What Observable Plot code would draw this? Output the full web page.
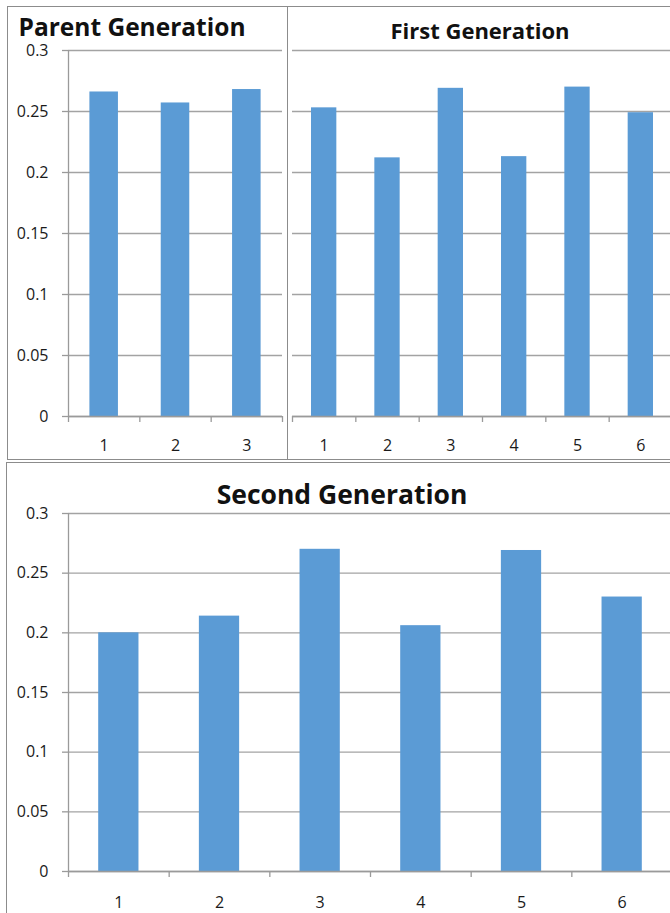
<!DOCTYPE html>
<html>
<head>
<meta charset="utf-8">
<script src="https://cdn.jsdelivr.net/npm/d3@7"></script>
<script src="https://cdn.jsdelivr.net/npm/@observablehq/plot@0.6"></script>
<style>
  html, body { margin: 0; padding: 0; overflow: hidden; background: #fff; }
  #page { position: relative; width: 670px; height: 913px; overflow: hidden; font-family: "Open Sans", sans-serif; }
  .panel { position: absolute; border: 1px solid #8c8c8c; box-sizing: border-box; }
  .chart { position: absolute; left: 0; width: 700px; }
  .chart svg { max-width: none !important; }
  .title { position: absolute; width: 400px; text-align: center; font-weight: bold; line-height: 0.8; color: #111; white-space: nowrap; }
</style>
</head>
<body>
<div id="page">
  <div class="panel" style="left:7px; top:6px; width:281px; height:454px;"></div>
  <div class="panel" style="left:287px; top:6px; width:420px; height:454px;"></div>
  <div class="panel" style="left:6px; top:462px; width:700px; height:500px;"></div>
  <div id="c1" class="chart" style="top:0px;"></div>
  <div id="c2" class="chart" style="top:0px;"></div>
  <div id="c3" class="chart" style="top:462px;"></div>
  <div class="title" style="left:-68px; top:16.7px; font-size:24.5px;">Parent Generation</div>
  <div class="title" style="left:280px; top:21.7px; font-size:22px;">First Generation</div>
  <div class="title" style="left:142px; top:484px; font-size:26.5px;">Second Generation</div>
</div>
<script>
// ---- data ----
const parentCats = [1, 2, 3];
const parentValues = [0.266, 0.257, 0.268];
const firstCats = [1, 2, 3, 4, 5, 6];
const firstValues = [0.253, 0.212, 0.269, 0.213, 0.270, 0.249];
const secondCats = [1, 2, 3, 4, 5, 6];
const secondValues = [0.200, 0.214, 0.270, 0.206, 0.269, 0.230];
const yTicks = [0, 0.05, 0.1, 0.15, 0.2, 0.25, 0.3];

const barColor = "#5b9bd5";
const gridColor = "#a3a3a3";
const axisColor = "#9a9a9a";

function makeChart(cats, values, opts) {
  const data = cats.map((c, i) => ({cat: c, v: values[i]}));
  const n = cats.length;
  const boundaries = d3.range(0.5, n + 1, 1);
  const marks = [
    Plot.gridY(yTicks, {stroke: gridColor, strokeOpacity: 1, strokeWidth: 1.3}),
    Plot.rectY(data, {x1: d => d.cat - 0.2, x2: d => d.cat + 0.2, y1: 0, y2: "v", fill: barColor}),
    Plot.ruleY([0], {stroke: axisColor, strokeWidth: 1.3}),
    Plot.axisX(boundaries, {tickSize: 6, tickFormat: () => "", label: null, stroke: axisColor, strokeWidth: 1.3}),
    Plot.axisX(cats, {tickSize: 0, tickPadding: opts.xPad, label: null, tickFormat: d => String(d), fill: "#1a1a1a", fontSize: 16})
  ];
  if (opts.showY) {
    marks.push(Plot.ruleX([0.5], {stroke: axisColor, strokeWidth: 1.3}));
    marks.push(Plot.axisY(yTicks, {tickSize: 6, tickPadding: 14, label: null, tickFormat: d => String(d), stroke: axisColor, strokeWidth: 1.3, fill: "#1a1a1a", fontSize: 16}));
  }
  return Plot.plot({
    width: opts.width,
    height: opts.height,
    marginLeft: opts.ml,
    marginRight: opts.width - opts.plotRight,
    marginTop: opts.mt,
    marginBottom: opts.mb,
    style: {fontFamily: "'Open Sans', sans-serif", fontSize: "16px", color: "#1a1a1a", background: "transparent", overflow: "visible", maxWidth: "none"},
    x: {type: "linear", domain: [0.5, n + 0.5], axis: null},
    y: {domain: [0, 0.3], axis: null},
    marks
  });
}

document.getElementById("c1").appendChild(makeChart(parentCats, parentValues, {
  width: 287, height: 459, ml: 68, plotRight: 282, mt: 50, mb: 43, showY: true, xPad: 23
}));
document.getElementById("c2").appendChild(makeChart(firstCats, firstValues, {
  width: 680, height: 459, ml: 292, plotRight: 672, mt: 50, mb: 43, showY: false, xPad: 23
}));
document.getElementById("c3").appendChild(makeChart(secondCats, secondValues, {
  width: 680, height: 451, ml: 68, plotRight: 672, mt: 51, mb: 42, showY: true, xPad: 25
}));
</script>
</body>
</html>
